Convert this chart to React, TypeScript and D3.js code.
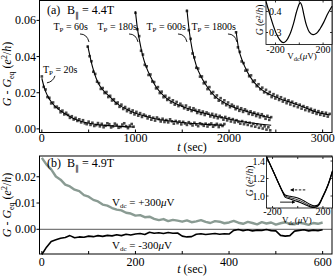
import React from "react";
import * as d3 from "d3";

const FONT = "'Liberation Serif', 'Times New Roman', Times, serif";

// ---- panel (a): B|| = 4.4T, G - Geq after pulses of length T_P (values in 1e-3 e^2/h)
const pulseNames = ["20s", "60s", "180s", "600s", "1800s"];
const pulseStart = [0, 490, 1000, 1550, 2075]; // t of first point (sec)
const sampleStep = 20; // sec between points

const tp20Data = [29.0, 23.2, 21.8, 17.6, 17.2, 14.1, 14.6, 12.0, 12.3, 11.4, 9.2, 10.1, 8.0, 8.9, 7.7, 6.1, 7.0, 5.2, 6.1, 4.4,
  5.3, 3.6, 4.8, 3.1, 2.6, 4.0, 2.2, 3.4, 1.6, 2.1, 3.2, 1.4, 2.8, 0.9, 1.7, 3.1, 2.6, 0.8, 1.4, 2.9,
  2.2, 0.6, 1.0, 2.4, 3.1, 1.5, 0.4, 1.8, 2.7, 1.2];
const tp60Data = [45.5, 40.2, 37.4, 31.6, 30.4, 26.1, 25.3, 22.1, 22.6, 19.8, 20.4, 17.6, 18.3, 15.7, 16.4, 13.9, 14.6, 12.2, 13.4, 11.0,
  12.1, 9.8, 11.0, 8.9, 10.2, 8.0, 9.4, 7.3, 8.7, 6.6, 7.9, 7.2, 5.8, 7.0, 5.1, 6.2, 4.6, 6.3, 5.4, 4.1,
  5.6, 3.8, 4.9, 3.6, 5.3, 4.2, 2.9, 4.4, 3.2, 4.1, 2.5, 3.9, 3.0, 2.2, 3.7, 2.8, 1.9, 3.4, 2.4, 1.5,
  3.1, 2.6, 1.7, 2.9, 1.3, 2.4, 3.0, 1.2, 2.1, 2.8, 1.0, 2.3, 1.6, 2.7];
const tp180Data = [64.2, 55.1, 51.3, 43.2, 41.1, 35.4, 34.6, 29.8, 30.1, 26.2, 25.9, 22.4, 23.1, 19.8, 20.6, 17.5, 18.3, 16.0, 17.1, 14.6,
  15.8, 13.4, 14.9, 12.6, 13.9, 12.8, 11.4, 12.9, 10.6, 11.8, 9.9, 11.4, 10.5, 8.8, 10.2, 8.3, 9.6, 7.7, 9.1, 8.4,
  6.9, 8.3, 6.4, 7.8, 5.9, 7.2, 6.4, 5.1, 6.6, 4.7, 5.9, 4.1, 5.4, 3.6, 4.8, 3.9, 2.9, 4.3, 2.6, 3.7,
  2.2, 3.4, 1.6, 2.8, 1.2, 2.5, 0.6, 1.9, 0.2, 1.4, -0.4, 0.9, -0.8];
const tp600Data = [65.2, 54.6, 49.8, 41.7, 39.6, 33.8, 33.4, 28.9, 29.0, 25.2, 25.9, 22.0, 23.1, 19.6, 20.4, 17.3, 18.5, 15.6, 17.0, 14.2,
  15.8, 13.1, 14.6, 12.0, 13.4, 12.6, 10.9, 12.2, 10.0, 11.4, 9.4, 10.8, 9.9, 8.3, 9.7, 7.8, 9.0, 7.1, 8.4, 6.4,
  8.1, 7.0, 5.6, 7.2, 5.0, 6.5];
const tp1800Data = [53.4, 45.1, 42.6, 37.3, 36.4, 32.2, 32.6, 29.1, 29.6, 26.0, 26.8, 23.6, 24.7, 21.9, 22.8, 20.2, 21.6, 19.3, 20.4, 17.6,
  19.2, 16.8, 18.3, 16.0, 17.5, 15.1, 16.6, 14.2, 15.8, 13.5, 15.0, 12.7, 14.1, 12.0, 13.4, 11.2, 12.6, 10.4, 11.9, 9.8,
  11.1, 9.0, 10.4, 8.3, 9.8, 7.8, 9.2, 7.3, 8.9, 6.8, 8.3];

// fitted relaxation curves [t (sec), G - Geq (1e-3 e^2/h)]
const tp20Fit = [[0, 28], [25, 23], [50, 19.5], [75, 17], [100, 15], [150, 12], [200, 10], [266, 7.8], [350, 5.5],
  [436, 3.9], [517, 3], [617, 2.2], [800, 1.5], [980, 1.0]];
const tp60Fit = [[490, 46], [515, 40], [543, 34], [580, 28], [617, 24], [670, 20.5], [723, 18], [780, 15], [830, 13],
  [920, 10.5], [1010, 8.5], [1120, 6.8], [1223, 5.5], [1350, 4.5], [1500, 3.5], [1750, 2.5], [1950, 2.0]];
const tp180Fit = [[1000, 65], [1020, 56], [1043, 49], [1080, 40], [1117, 34], [1170, 28], [1223, 23], [1280, 19.5],
  [1330, 17], [1450, 13.5], [1606, 10.5], [1780, 8], [1947, 6], [2200, 3.5], [2450, 2.0]];
const tp600Fit = [[1550, 66], [1575, 54], [1606, 44], [1650, 35], [1700, 29], [1770, 23], [1850, 18], [1950, 14.5],
  [2050, 12], [2150, 10.3], [2230, 9], [2350, 7.3], [2450, 6]];
const tp1800Fit = [[2075, 54], [2100, 45], [2140, 38], [2190, 32], [2250, 27], [2320, 23], [2400, 20], [2530, 17],
  [2670, 14.4], [2800, 12], [2926, 9.4], [3075, 7.7]];

// label placement for each T_P (t of text end/start, G of baseline)
const pulseLabelT = [12, 493, 1017, 1540, 2074];
const pulseLabelG = [0.031, 0.0547, 0.0547, 0.0547, 0.0547];

const aXTicks = [0, 500, 1000, 1500, 2000, 2500, 3000];
const aXLabels = [0, 1000, 2000, 3000];
const aYTicks = [0, 0.02, 0.04, 0.06];

// inset (a): G vs Vdc
const insetAV = [-280, -250, -220, -190, -160, -135, -110, -80, -50, -25, -5, 8, 20, 40, 60, 85, 115, 145, 175, 205, 240, 275];
const insetAG = [0.448, 0.39, 0.335, 0.29, 0.262, 0.252, 0.26, 0.29, 0.34, 0.395, 0.43, 0.442, 0.43, 0.38, 0.335, 0.302,
  0.29, 0.296, 0.318, 0.348, 0.39, 0.425];

// ---- panel (b): B|| = 4.9T, Vdc = +300 / -300 uV (1e-3 e^2/h, every 10 s from 0)
const bStep = 10;
const plus300 = [27.2, 24.6, 22.8, 20.1, 18.9, 17.0, 16.3, 15.1, 14.5, 13.0, 12.4, 11.2, 10.6, 9.4, 9.0, 8.1, 7.5, 7.2, 6.3, 6.0,
  5.2, 5.4, 4.6, 4.8, 4.0, 3.5, 3.9, 3.1, 3.6, 3.3, 2.9, 3.4, 2.7, 3.0, 3.5, 2.8, 2.4, 3.1, 2.9, 2.3,
  2.6, 3.2, 2.5, 2.1, 2.8, 2.4, 1.9, 2.7, 2.2, 2.6, 1.8, 2.3, 2.7, 2.0, 1.9, 2.5, 2.2, 1.7, 2.4, 2.1, 2.6];
const minus300 = [-9.6, -6.8, -4.6, -4.0, -3.4, -3.1, -2.4, -3.2, -2.9, -3.0, -2.6, -2.8, -2.4, -2.7, -2.3, -2.5, -2.1, -2.4, -1.9, -2.2,
  -1.8, -1.6, -2.0, -1.1, -1.5, -1.3, -1.6, -1.2, -1.5, -1.4, -2.6, -2.9, -2.8, -1.9, -1.7, -2.0, -1.8, -1.6, -1.9, -1.7,
  -1.8, -0.4, -0.1, -0.5, -0.2, -0.6, -0.3, -0.4, -0.1, -0.5, -0.6, -2.3, -2.6, -2.4, -0.7, -0.4, -0.2, -0.6, -0.3, -0.5, -0.2];

const bXTicks = [0, 100, 200, 300, 400, 500, 600];
const bXLabels = [0, 200, 400, 600];
const bYTicks = [0, 0.01, 0.02];

// inset (b): hysteretic G vs Vdc sweeps
const insetBV = [-248, -200, -150, -120, -100, -60, -20, 20, 60, 100, 130, 160, 200, 240, 276];
const sweepUp = [1.45, 1.30, 1.14, 1.05, 1.012, 0.997, 0.986, 0.966, 0.936, 0.902, 0.887, 0.897, 1.0, 1.13, 1.29];
const sweepMid = [1.45, 1.30, 1.14, 1.05, 1.0, 0.981, 0.966, 0.946, 0.917, 0.887, 0.877, 0.89, 0.995, 1.125, 1.285];
const sweepDown = [1.45, 1.30, 1.14, 1.045, 0.988, 0.966, 0.947, 0.927, 0.9, 0.876, 0.869, 0.884, 0.99, 1.12, 1.28];

const Sub = ({ children, fs }: any) => (
  <tspan fontSize={fs} dy={fs * 0.45}>{children}</tspan>
);

export default function App() {
  // panel (a)
  const xA = d3.scaleLinear().domain([-25, 3100]).range([39.5, 332]);
  const yA = d3.scaleLinear().domain([-0.002, 0.071]).range([132.5, 0.5]);
  const lineA = d3.line<number[]>().x(d => xA(d[0])).y(d => yA(d[1] / 1000)).curve(d3.curveMonotoneX);
  const traces = [tp20Data, tp60Data, tp180Data, tp600Data, tp1800Data];
  const fits = [tp20Fit, tp60Fit, tp180Fit, tp600Fit, tp1800Fit];

  // panel (b)
  const xB = d3.scaleLinear().domain([-5, 620]).range([39.5, 332]);
  const yB = d3.scaleLinear().domain([-0.0094, 0.0279]).range([254, 156]);
  const lineB = d3.line<number>().x((_, i) => xB(i * bStep)).y(d => yB(d / 1000));

  // insets
  const xIA = d3.scaleLinear().domain([-280, 275]).range([266, 332]);
  const yIA = d3.scaleLinear().domain([0.243, 0.452]).range([44.5, 0.5]);
  const lineIA = d3.line<number>().x((_, i) => xIA(insetAV[i])).y(d => yIA(d)).curve(d3.curveCatmullRom);
  const xIB = d3.scaleLinear().domain([-248, 276]).range([266.5, 332.5]);
  const yIB = d3.scaleLinear().domain([0.863, 1.446]).range([208, 157]);
  const lineIB = d3.line<number>().x((_, i) => xIB(insetBV[i])).y(d => yIB(d)).curve(d3.curveCatmullRom);

  const yLabel = (cx: number, cy: number) => (
    <text transform={`translate(${cx},${cy}) rotate(-90)`} textAnchor="middle" fontSize={12}>
      <tspan fontStyle="italic">G</tspan> - <tspan fontStyle="italic">G</tspan>
      <tspan fontSize={8} dy={3}>eq</tspan>
      <tspan dy={-3}>  (</tspan><tspan fontStyle="italic">e</tspan>
      <tspan fontSize={8} dy={-4}>2</tspan><tspan dy={4}>/</tspan><tspan fontStyle="italic">h</tspan>)
    </text>
  );

  const insetFrame = (xs: any, ys: any, xt: number[], yt: number[]) => {
    const [x0, x1] = xs.range();
    const [y0, y1] = ys.range();
    return (
      <g stroke="#000" strokeWidth={0.8}>
        <rect x={x0} y={y1} width={x1 - x0} height={y0 - y1} fill="none" />
        {xt.map(v => (
          <g key={"x" + v}>
            <line x1={xs(v)} x2={xs(v)} y1={y0} y2={y0 - 2} />
            <line x1={xs(v)} x2={xs(v)} y1={y1} y2={y1 + 2} />
          </g>
        ))}
        {yt.map(v => (
          <g key={"y" + v}>
            <line x1={x0} x2={x0 + 2} y1={ys(v)} y2={ys(v)} />
            <line x1={x1} x2={x1 - 2} y1={ys(v)} y2={ys(v)} />
          </g>
        ))}
      </g>
    );
  };

  return (
    <svg width={336} height={276} style={{ position: "absolute", left: 0, top: 0, background: "#fff", fontFamily: FONT }}>
      <defs>
        <marker id="ah" viewBox="0 0 6 6" refX="5" refY="3" markerWidth="4" markerHeight="4" orient="auto">
          <path d="M0,0 L6,3 L0,6 z" fill="#000" />
        </marker>
      </defs>

      {/* ---------- panel (a) ---------- */}
      {traces.map((tr, k) =>
        tr.map((g, i) => (
          <rect key={`p${k}-${i}`} x={xA(pulseStart[k] + i * sampleStep) - 1.3} y={yA(g / 1000) - 1.3}
            width={2.6} height={2.6} fill="#474747" />
        ))
      )}
      {fits.map((f, k) => (
        <path key={"f" + k} d={lineA(f as number[][]) || ""} fill="none" stroke="#000" strokeWidth={1.1} />
      ))}
      <rect x={39.5} y={0.5} width={292.5} height={132} fill="none" stroke="#000" strokeWidth={1} />
      {aXTicks.map(t => (
        <line key={t} x1={xA(t)} x2={xA(t)} y1={132.5} y2={129.5} stroke="#000" />
      ))}
      {aYTicks.map(v => (
        <line key={v} x1={36.5} x2={39.5} y1={yA(v)} y2={yA(v)} stroke="#000" />
      ))}
      <g fontSize={12}>
        {aXLabels.map(t => (
          <text key={t} x={xA(t)} y={142} textAnchor="middle">{t}</text>
        ))}
        {aYTicks.map(v => (
          <text key={v} x={36} y={yA(v) + 4} textAnchor="end">{v.toFixed(2)}</text>
        ))}
        <text x={192} y={151} textAnchor="middle"><tspan fontStyle="italic">t</tspan> (sec)</text>
        <text x={47} y={14}>(a)</text>
        <text x={67} y={14}>B<Sub fs={8}>∥</Sub><tspan dy={-3.6}> = 4.4T</tspan></text>
      </g>
      {yLabel(11, 74)}

      {pulseNames.map((n, k) => {
        const x = xA(pulseLabelT[k]);
        const y = yA(pulseLabelG[k]);
        const first = k === 0;
        const d = first
          ? `M${x + 12},${y + 3} Q${x + 10},${y + 9} ${x + 4},${y + 10}`
          : `M${x - 8},${y + 4} Q${x - 1},${y + 4} ${x + 1},${y + 12}`;
        return (
          <g key={n}>
            <text x={x} y={y} fontSize={10} textAnchor={first ? "start" : "end"}>
              T<tspan fontSize={7} dy={2}>P</tspan><tspan dy={-2}> = {n}</tspan>
            </text>
            <path d={d} fill="none" stroke="#000" strokeWidth={0.9} />
          </g>
        );
      })}

      {/* inset (a) */}
      <rect x={266} y={0.5} width={66} height={44} fill="#fff" />
      <path d={lineIA(insetAG) || ""} fill="none" stroke="#000" strokeWidth={1.2} />
      {insetFrame(xIA, yIA, [-200, 0, 200], [0.3, 0.4])}
      <g fontSize={10}>
        {[-200, 200].map(v => (
          <text key={v} x={xIA(v)} y={53} textAnchor="middle">{v}</text>
        ))}
        {[0.3, 0.4].map(v => (
          <text key={v} x={269} y={yIA(v) + 3.5}>{v.toFixed(1)}</text>
        ))}
        <text x={302} y={59} textAnchor="middle" fontSize={9}>V<tspan fontSize={6.5} dy={2}>dc</tspan>
          <tspan dy={-2}>(</tspan><tspan fontStyle="italic">μ</tspan>V)</text>
        <text transform="translate(263,20) rotate(-90)" textAnchor="middle" fontSize={9.5}>
          <tspan fontStyle="italic">G</tspan> (<tspan fontStyle="italic">e</tspan>
          <tspan fontSize={7} dy={-3}>2</tspan><tspan dy={3}>/</tspan><tspan fontStyle="italic">h</tspan>)
        </text>
      </g>

      {/* ---------- panel (b) ---------- */}
      <line x1={39.5} x2={332} y1={yB(0)} y2={yB(0)} stroke="#7a7a7a" strokeWidth={1.3} />
      <path d={lineB(plus300) || ""} fill="none" stroke="#8a9b93" strokeWidth={2.4} strokeLinejoin="round" />
      <path d={lineB(minus300) || ""} fill="none" stroke="#000" strokeWidth={1.6} strokeLinejoin="round" />
      <rect x={39.5} y={156} width={292.5} height={98} fill="none" stroke="#000" strokeWidth={1} />
      {bXTicks.map(t => (
        <line key={t} x1={xB(t)} x2={xB(t)} y1={254} y2={251} stroke="#000" />
      ))}
      {bYTicks.map(v => (
        <line key={v} x1={36.5} x2={39.5} y1={yB(v)} y2={yB(v)} stroke="#000" />
      ))}
      <g fontSize={12}>
        {bXLabels.map(t => (
          <text key={t} x={xB(t)} y={266} textAnchor="middle">{t}</text>
        ))}
        {bYTicks.map(v => (
          <text key={v} x={36} y={yB(v) + 4} textAnchor="end">{v.toFixed(2)}</text>
        ))}
        <text x={192} y={273} textAnchor="middle"><tspan fontStyle="italic">t</tspan> (sec)</text>
        <text x={47} y={167}>(b)</text>
        <text x={67} y={167}>B<Sub fs={8}>∥</Sub><tspan dy={-3.6}> = 4.9T</tspan></text>
      </g>
      <g fontSize={11}>
        <text x={112} y={206}>V<tspan fontSize={7} dy={2}>dc</tspan><tspan dy={-2}> = +300</tspan>
          <tspan fontStyle="italic">μ</tspan>V</text>
        <text x={112} y={249}>V<tspan fontSize={7} dy={2}>dc</tspan><tspan dy={-2}> = -300</tspan>
          <tspan fontStyle="italic">μ</tspan>V</text>
      </g>
      {yLabel(11, 205)}

      {/* inset (b) */}
      <rect x={266.5} y={157} width={66} height={51} fill="#fff" />
      {[sweepUp, sweepMid, sweepDown].map((s, k) => (
        <path key={k} d={lineIB(s) || ""} fill="none" stroke="#000" strokeWidth={k === 1 ? 0.8 : 1.1} />
      ))}
      <line x1={xIB(60)} x2={xIB(-55)} y1={yIB(1.07)} y2={yIB(1.07)} stroke="#000" strokeWidth={0.9}
        strokeDasharray="2.5,1.5" markerEnd="url(#ah)" />
      <line x1={xIB(-140)} x2={xIB(-25)} y1={yIB(0.93)} y2={yIB(0.93)} stroke="#000" strokeWidth={0.9}
        markerEnd="url(#ah)" />
      {insetFrame(xIB, yIB, [-200, 0, 200], [1.0, 1.2, 1.4])}
      <g fontSize={10}>
        {[-200, 200].map(v => (
          <text key={v} x={xIB(v)} y={215} textAnchor="middle">{v}</text>
        ))}
        {[1.0, 1.2, 1.4].map(v => (
          <text key={v} x={265} y={yIB(v) + 3.5} textAnchor="end">{v.toFixed(1)}</text>
        ))}
        <text x={282} y={223} fontSize={9}>V<tspan fontSize={6.5} dy={2}>dc</tspan>
          <tspan dy={-2}>(</tspan><tspan fontStyle="italic">μ</tspan>V)</text>
        <text transform="translate(253,181) rotate(-90)" textAnchor="middle" fontSize={9.5}>
          <tspan fontStyle="italic">G</tspan> (<tspan fontStyle="italic">e</tspan>
          <tspan fontSize={7} dy={-3}>2</tspan><tspan dy={3}>/</tspan><tspan fontStyle="italic">h</tspan>)
        </text>
      </g>
    </svg>
  );
}
